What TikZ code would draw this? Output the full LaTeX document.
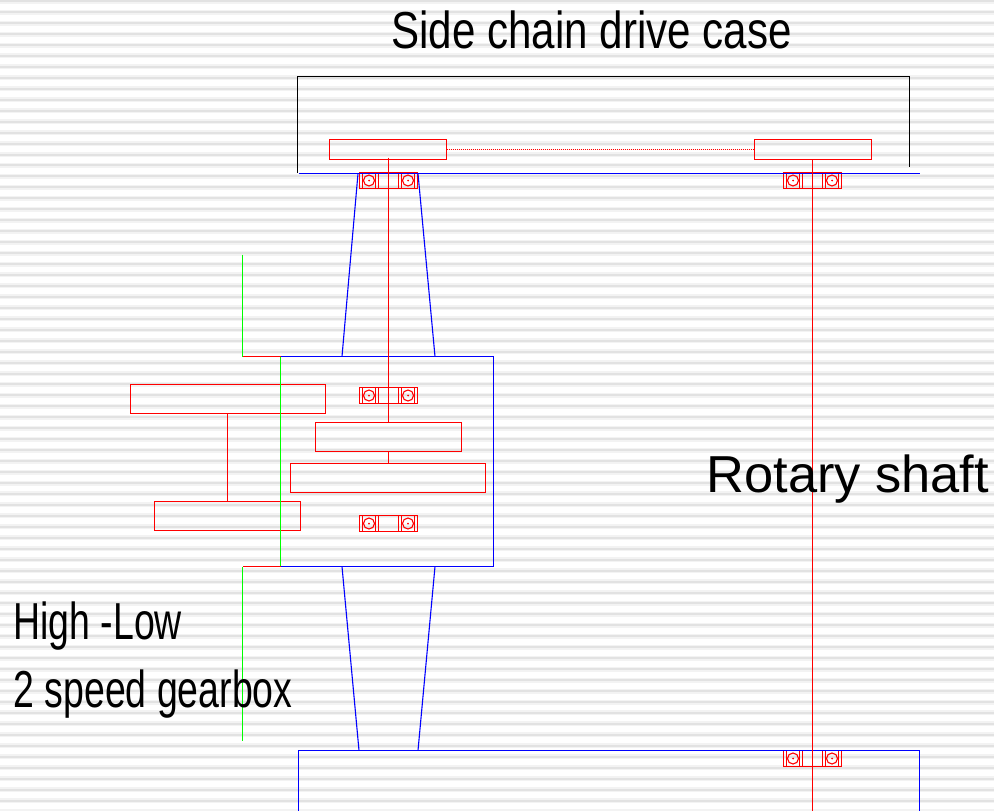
\documentclass[tikz,border=0pt]{standalone}
\usepackage{fontspec}
\setmainfont{Liberation Sans}
\definecolor{stripeA}{HTML}{F3F3F3}
\definecolor{stripeB}{HTML}{E2E2E2}
\newcommand{\lbl}[2]{\scalebox{#1}[1]{\fontsize{52}{60}\selectfont #2}}
\begin{document}
\begin{tikzpicture}[x=1pt,y=-1pt,line width=1.1pt,
    box/.style={draw=blue,inner sep=0pt,outer sep=0pt},
    gear/.style={draw=red,inner sep=0pt,outer sep=0pt},
    race/.style={draw=red,circle,inner sep=0pt,minimum size=11pt},
    txt/.style={inner sep=0pt,anchor=base west}]
    \useasboundingbox (0,0) rectangle (994,811);
    % background
    \fill[white] (0,0) rectangle (994,811);
    \foreach \i in {0,...,74} {
        \fill[stripeA] (0,{1.2+10.95*\i-2.5}) rectangle (994,{1.2+10.95*\i+2.5});
        \fill[stripeB] (0,{1.2+10.95*\i-1}) rectangle (994,{1.2+10.95*\i+1});
    }

    \begin{scope}[shift={(-0.5,-0.5)}]
    % gears
    \node[gear,minimum width=117pt,minimum height=20pt] (g1) at (388.5,150) {};
    \node[gear,minimum width=117pt,minimum height=20pt] (g2) at (813.5,150) {};
    \node[gear,minimum width=195pt,minimum height=29pt] (g3) at (228.5,399.5) {};
    \node[gear,minimum width=146pt,minimum height=29pt] (g4) at (389,437.5) {};
    \node[gear,minimum width=195pt,minimum height=29pt] (g5) at (388.5,478.5) {};
    \node[gear,minimum width=146pt,minimum height=29pt] (g6) at (228,516.5) {};

    % bearings
    \foreach \n/\x/\y in {b1/389/181, b2/813/181, b3/389/396, b4/389/524, b5/813/759} {
        \node[gear,minimum width=58pt,minimum height=16pt] (\n) at (\x,\y) {};
        \node[race] (\n l) at (\x-19.5,\y) {};
        \node[race] (\n r) at (\x+19.5,\y) {};
        \fill[red] (\n l) circle (1pt) (\n r) circle (1pt);
        \foreach \d in {-26,-13,-10,10,13,26}
            \draw[red] (\x+\d,\y-8) -- (\x+\d,\y+8);
    }

    % gearbox
    \node[box,minimum width=213pt,minimum height=210pt] (gb) at (387.5,462) {};

    % end points
    \coordinate (c1) at (298,173);
    \coordinate (c2) at (298,77);
    \coordinate (c3) at (910,77);
    \coordinate (c4) at (910,167);
    \coordinate (p1) at (299,174);
    \coordinate (p2) at (920,174);
    \coordinate (q1) at (299,812);
    \coordinate (q2) at (299,751);
    \coordinate (q3) at (920,751);
    \coordinate (q4) at (920,812);
    \coordinate (t1) at (358.5,174);
    \coordinate (t2) at (418.5,174);
    \coordinate (t3) at (342.5,357);
    \coordinate (t4) at (435.5,357);
    \coordinate (u1) at (342.5,567);
    \coordinate (u2) at (435.5,567);
    \coordinate (u3) at (359.5,751);
    \coordinate (u4) at (418.5,751);
    \coordinate (v1) at (243,255);
    \coordinate (v2) at (243,357);
    \coordinate (v3) at (281,357);
    \coordinate (v4) at (281,567);
    \coordinate (v5) at (243,567);
    \coordinate (v6) at (243,741);
    \coordinate (s1) at (389,158);
    \coordinate (s2) at (813,160);
    \coordinate (s3) at (813,812);

    % housing
    \draw[black,line width=1.9pt] (c1) -- (c2) -- (c3) -- (c4);
    \draw[blue,line width=1.3pt] (p1) -- (p2);
    \draw[blue] (q1) -- (q2) -- (q3) -- (q4);
    \draw[blue] (t1) -- (t3);
    \draw[blue] (t2) -- (t4);
    \draw[blue] (u1) -- (u3);
    \draw[blue] (u2) -- (u4);

    % shafts
    \draw[red] (s1) -- (g4.north);
    \draw[red] (g4.south) -- (g4.south |- g5.north);
    \draw[red] (g6.north |- g3.south) -- (g6.north);
    \draw[red] (s2) -- (s3);
    \draw[red,dash pattern=on 1pt off 1pt] (g1.east) -- (g2.west);

    % support
    \draw[green] (v1) -- (v2);
    \draw[red] (v2) -- (v3);
    \draw[green] (v3) -- (v4);
    \draw[red] (v4) -- (v5);
    \draw[green] (v5) -- (v6);
    \end{scope}

    % labels
    \node[txt] (tcase) at (391,48) {\lbl{0.81}{Side chain drive case}};
    \node[txt] (tshaft) at (706,492) {\lbl{1.008}{Rotary shaft}};
    \node[txt] (thigh) at (13,639) {\lbl{0.72}{High -Low}};
    \node[txt] (tspeed) at (13,707) {\lbl{0.72}{2 speed gearbox}};
\end{tikzpicture}
\end{document}
